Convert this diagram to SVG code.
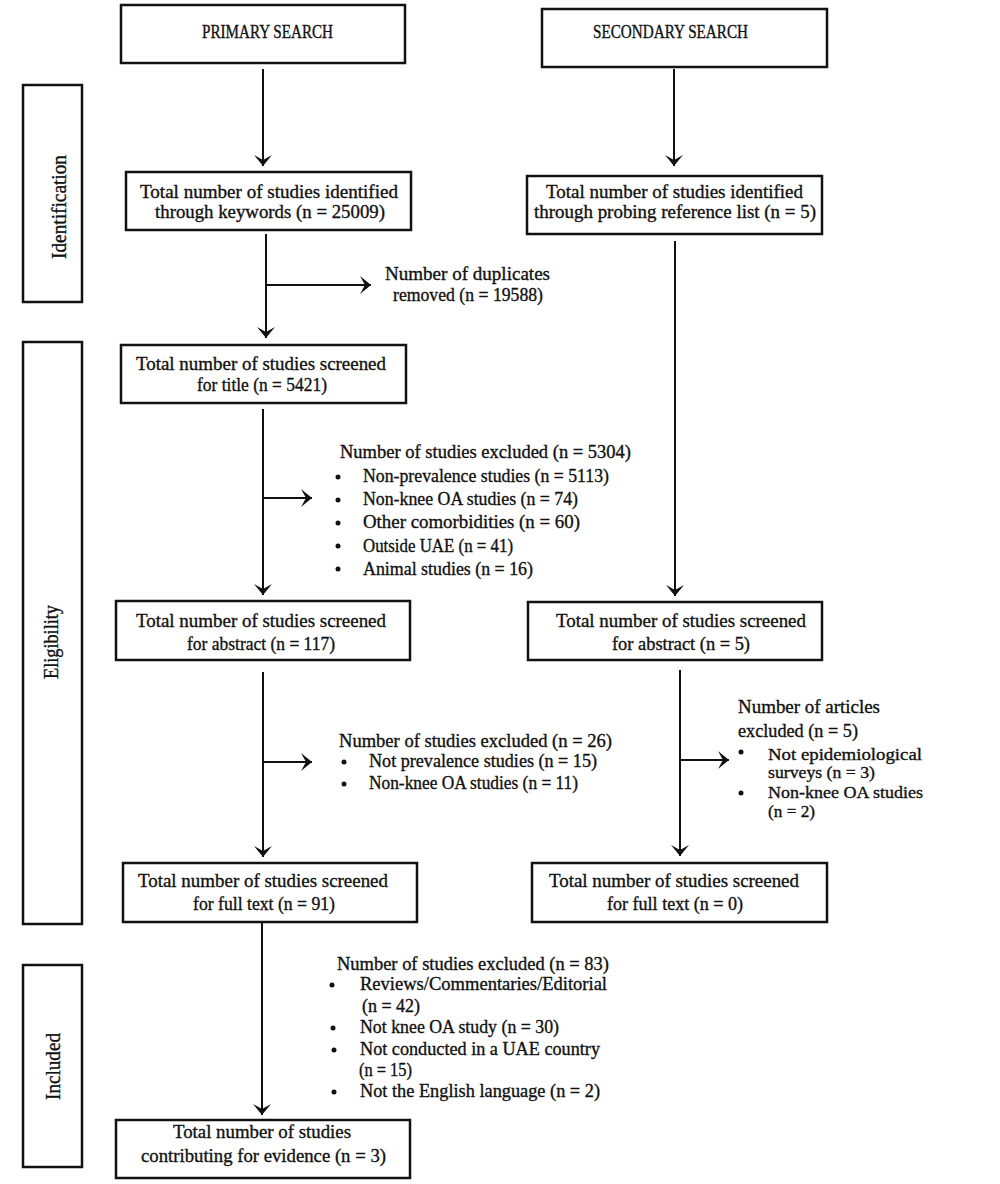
<svg xmlns="http://www.w3.org/2000/svg" width="1000" height="1184" viewBox="0 0 1000 1184">
<style>
.box{fill:#fff;stroke:#111;stroke-width:2.5}
.ln{fill:none;stroke:#111;stroke-width:2}
text{font-family:"Liberation Serif","Times New Roman",serif;fill:#111;font-size:19px;stroke:#111;stroke-width:0.35}
.hd{font-size:18px}
.side{font-size:20px}
.sm{font-size:17px}
.dot{fill:#111}
</style>
<defs>
<marker id="ah" markerUnits="userSpaceOnUse" markerWidth="14" markerHeight="20" viewBox="-12 -10 14 20" refX="0" refY="0" orient="auto">
<path d="M0,0 L-11,-9 L-6,0 L-11,9 Z" fill="#111"/>
</marker>
</defs>
<rect width="1000" height="1184" fill="#fff"/>

<g id="connectors">
<line class="ln" x1="263" y1="69" x2="263" y2="166" marker-end="url(#ah)"/>
<line class="ln" x1="674" y1="69" x2="674" y2="166" marker-end="url(#ah)"/>
<line class="ln" x1="266" y1="234" x2="266" y2="338" marker-end="url(#ah)"/>
<line class="ln" x1="266" y1="285" x2="371" y2="285" marker-end="url(#ah)"/>
<line class="ln" x1="675" y1="241" x2="675" y2="596" marker-end="url(#ah)"/>
<line class="ln" x1="263" y1="409" x2="263" y2="595" marker-end="url(#ah)"/>
<line class="ln" x1="263" y1="498" x2="312" y2="498" marker-end="url(#ah)"/>
<line class="ln" x1="263" y1="672" x2="263" y2="857" marker-end="url(#ah)"/>
<line class="ln" x1="263" y1="762" x2="312" y2="762" marker-end="url(#ah)"/>
<line class="ln" x1="680" y1="670" x2="680" y2="856" marker-end="url(#ah)"/>
<line class="ln" x1="680" y1="760" x2="729" y2="760" marker-end="url(#ah)"/>
<line class="ln" x1="262" y1="922" x2="262" y2="1115" marker-end="url(#ah)"/>
</g>

<g id="stage-identification">
<rect class="box" x="23" y="85" width="59" height="217"/>
<text class="side" transform="translate(66,259) rotate(-90)" textLength="104" lengthAdjust="spacingAndGlyphs">Identification</text>
</g>
<g id="stage-eligibility">
<rect class="box" x="23" y="342" width="59" height="582"/>
<text class="side" transform="translate(58,679) rotate(-90)" textLength="74" lengthAdjust="spacingAndGlyphs">Eligibility</text>
</g>
<g id="stage-included">
<rect class="box" x="23" y="965" width="59" height="202"/>
<text class="side" transform="translate(60,1100) rotate(-90)" textLength="67" lengthAdjust="spacingAndGlyphs">Included</text>
</g>

<g id="primary-search">
<rect class="box" x="121" y="5" width="284" height="58"/>
<text class="hd" x="202" y="38" textLength="131" lengthAdjust="spacingAndGlyphs">PRIMARY SEARCH</text>
</g>
<g id="secondary-search">
<rect class="box" x="542" y="9" width="285" height="58"/>
<text class="hd" x="593" y="38" textLength="155" lengthAdjust="spacingAndGlyphs">SECONDARY SEARCH</text>
</g>

<g id="identified-keywords">
<rect class="box" x="126" y="172" width="285" height="58"/>
<text x="140" y="198" textLength="258" lengthAdjust="spacingAndGlyphs">Total number of studies identified</text>
<text x="155" y="218" textLength="230" lengthAdjust="spacingAndGlyphs">through keywords (n = 25009)</text>
</g>
<g id="identified-reference">
<rect class="box" x="527" y="176" width="295" height="58"/>
<text x="546" y="198" textLength="257" lengthAdjust="spacingAndGlyphs">Total number of studies identified</text>
<text x="534" y="218" textLength="282" lengthAdjust="spacingAndGlyphs">through probing reference list (n = 5)</text>
</g>

<g id="duplicates">
<text x="385" y="280" textLength="165" lengthAdjust="spacingAndGlyphs">Number of duplicates</text>
<text x="393" y="301" textLength="150" lengthAdjust="spacingAndGlyphs">removed (n = 19588)</text>
</g>

<g id="screened-title">
<rect class="box" x="121" y="345" width="285" height="58"/>
<text x="136" y="370" textLength="250" lengthAdjust="spacingAndGlyphs">Total number of studies screened</text>
<text x="197" y="391" textLength="130" lengthAdjust="spacingAndGlyphs">for title (n = 5421)</text>
</g>

<g id="excluded-title">
<text x="340" y="458" textLength="291" lengthAdjust="spacingAndGlyphs">Number of studies excluded (n = 5304)</text>
<circle class="dot" cx="338" cy="477" r="2.5"/>
<text x="363" y="482" textLength="246" lengthAdjust="spacingAndGlyphs">Non-prevalence studies (n = 5113)</text>
<circle class="dot" cx="338" cy="500" r="2.5"/>
<text x="363" y="505" textLength="215" lengthAdjust="spacingAndGlyphs">Non-knee OA studies (n = 74)</text>
<circle class="dot" cx="338" cy="523" r="2.5"/>
<text x="363" y="528" textLength="217" lengthAdjust="spacingAndGlyphs">Other comorbidities (n = 60)</text>
<circle class="dot" cx="338" cy="546" r="2.5"/>
<text x="363" y="552" textLength="150" lengthAdjust="spacingAndGlyphs">Outside UAE (n = 41)</text>
<circle class="dot" cx="338" cy="569" r="2.5"/>
<text x="363" y="575" textLength="170" lengthAdjust="spacingAndGlyphs">Animal studies (n = 16)</text>
</g>

<g id="screened-abstract-primary">
<rect class="box" x="116" y="601" width="294" height="59"/>
<text x="136" y="627" textLength="250" lengthAdjust="spacingAndGlyphs">Total number of studies screened</text>
<text x="187" y="650" textLength="148" lengthAdjust="spacingAndGlyphs">for abstract (n = 117)</text>
</g>
<g id="screened-abstract-secondary">
<rect class="box" x="528" y="602" width="294" height="58"/>
<text x="556" y="627" textLength="250" lengthAdjust="spacingAndGlyphs">Total number of studies screened</text>
<text x="612" y="650" textLength="138" lengthAdjust="spacingAndGlyphs">for abstract (n = 5)</text>
</g>

<g id="excluded-abstract">
<text x="339" y="747" textLength="273" lengthAdjust="spacingAndGlyphs">Number of studies excluded (n = 26)</text>
<circle class="dot" cx="344" cy="762" r="2.5"/>
<text x="369" y="767" textLength="228" lengthAdjust="spacingAndGlyphs">Not prevalence studies (n = 15)</text>
<circle class="dot" cx="344" cy="784" r="2.5"/>
<text x="369" y="789" textLength="209" lengthAdjust="spacingAndGlyphs">Non-knee OA studies (n = 11)</text>
</g>

<g id="excluded-articles">
<text x="738" y="713" textLength="142" lengthAdjust="spacingAndGlyphs">Number of articles</text>
<text x="738" y="737" textLength="120" lengthAdjust="spacingAndGlyphs">excluded (n = 5)</text>
<circle class="dot" cx="741" cy="752" r="2.5"/>
<text class="sm" x="768" y="760" textLength="154" lengthAdjust="spacingAndGlyphs">Not epidemiological</text>
<text class="sm" x="768" y="778" textLength="107" lengthAdjust="spacingAndGlyphs">surveys (n = 3)</text>
<circle class="dot" cx="741" cy="793" r="2.5"/>
<text class="sm" x="768" y="798" textLength="155" lengthAdjust="spacingAndGlyphs">Non-knee OA studies</text>
<text class="sm" x="768" y="817" textLength="47" lengthAdjust="spacingAndGlyphs">(n = 2)</text>
</g>

<g id="screened-fulltext-primary">
<rect class="box" x="123" y="863" width="294" height="59"/>
<text x="138" y="887" textLength="250" lengthAdjust="spacingAndGlyphs">Total number of studies screened</text>
<text x="193" y="910" textLength="142" lengthAdjust="spacingAndGlyphs">for full text (n = 91)</text>
</g>
<g id="screened-fulltext-secondary">
<rect class="box" x="532" y="863" width="295" height="59"/>
<text x="549" y="887" textLength="250" lengthAdjust="spacingAndGlyphs">Total number of studies screened</text>
<text x="607" y="910" textLength="136" lengthAdjust="spacingAndGlyphs">for full text (n = 0)</text>
</g>

<g id="excluded-fulltext">
<text x="337" y="970" textLength="272" lengthAdjust="spacingAndGlyphs">Number of studies excluded (n = 83)</text>
<circle class="dot" cx="332" cy="985" r="2.5"/>
<text x="360" y="990" textLength="247" lengthAdjust="spacingAndGlyphs">Reviews/Commentaries/Editorial</text>
<text x="362" y="1012" textLength="58" lengthAdjust="spacingAndGlyphs">(n = 42)</text>
<circle class="dot" cx="333" cy="1028" r="2.5"/>
<text x="360" y="1033" textLength="199" lengthAdjust="spacingAndGlyphs">Not knee OA study (n = 30)</text>
<circle class="dot" cx="334" cy="1050" r="2.5"/>
<text x="360" y="1055" textLength="240" lengthAdjust="spacingAndGlyphs">Not conducted in a UAE country</text>
<text x="359" y="1076" textLength="53" lengthAdjust="spacingAndGlyphs">(n = 15)</text>
<circle class="dot" cx="334" cy="1092" r="2.5"/>
<text x="360" y="1097" textLength="240" lengthAdjust="spacingAndGlyphs">Not the English language (n = 2)</text>
</g>

<g id="included-evidence">
<rect class="box" x="116" y="1120" width="294" height="58"/>
<text x="173" y="1138" textLength="178" lengthAdjust="spacingAndGlyphs">Total number of studies</text>
<text x="141" y="1162" textLength="245" lengthAdjust="spacingAndGlyphs">contributing for evidence (n = 3)</text>
</g>
</svg>
